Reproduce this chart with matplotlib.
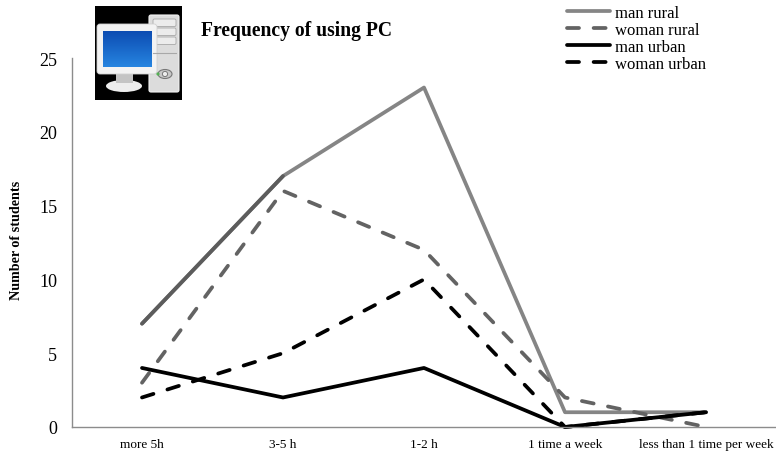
import numpy as np
import matplotlib
matplotlib.use("Agg")
import matplotlib.pyplot as plt
from matplotlib.patches import Rectangle, FancyBboxPatch, Ellipse, Circle

categories = ["more 5h", "3-5 h", "1-2 h", "1 time a week", "less than 1 time per week"]
man_rural = [7, 17, 23, 1, 1]
woman_rural = [3, 16, 12, 2, 0]
man_urban = [4, 2, 4, 0, 1]
woman_urban = [2, 5, 10, 0, 1]
y_ticks = [0, 5, 10, 15, 20, 25]
title = "Frequency of using PC"
y_label = "Number of students"

plt.rcParams["font.family"] = ["Liberation Serif", "DejaVu Serif"]
W, H = 776, 452
fig = plt.figure(figsize=(W / 100, H / 100), dpi=100, facecolor="white")
ax = fig.add_axes([71.5 / W, 1 - 428 / H, (776.5 - 71.5) / W, (428 - 59) / H])

x = np.arange(len(categories))
dash = (0, (3.2, 3.9))
lw = 2.7
kw = dict(lw=lw, solid_capstyle="round", dash_capstyle="round", solid_joinstyle="round")
ax.plot(x, man_rural, color="#858585", label="man rural", **kw)
ax.plot(x[:2], man_rural[:2], color="#5c5c5c", **kw)
ax.plot(x, woman_rural, color="#636363", ls=dash, label="woman rural", **kw)
ax.plot(x, man_urban, color="#000000", label="man urban", **kw)
ax.plot(x, woman_urban, color="#000000", ls=dash, label="woman urban", **kw)

ax.set_xlim(-0.5, 4.5)
ax.set_ylim(0, 25)
ax.set_xticks(x, categories, fontsize=9.5)
ax.set_yticks(y_ticks)
ax.tick_params(axis="y", length=0, labelsize=13, pad=10.4)
ax.tick_params(axis="x", length=0, pad=8)
for s in ("top", "right"):
    ax.spines[s].set_visible(False)
for s in ("left", "bottom"):
    ax.spines[s].set_color("#8c8c8c")
    ax.spines[s].set_linewidth(1.0)
for line in ax.lines:
    line.set_clip_on(False)

fig.text(17 / W, 1 - 240 / H, y_label, rotation=90, ha="center", va="center",
         fontsize=10.2, fontweight="bold")
fig.text(297 / W, 1 - 31 / H, title, ha="center", va="center",
         fontsize=14.1, fontweight="bold")

fig.legend(loc="upper left", bbox_to_anchor=(565 / W, 1 - 4.5 / H), frameon=False,
           fontsize=12, handlelength=2.6, handletextpad=0.3,
           labelspacing=0.05, borderpad=0.1, borderaxespad=0)

# computer icon, in its own pixel-scaled axes
ic = fig.add_axes([95 / W, 1 - 101 / H, 87 / W, 94 / H])
ic.axis("off")
ic.add_patch(Rectangle((95, 7), 87, 94, fc="black", ec="none"))
ic.add_patch(FancyBboxPatch((149, 16), 30, 77, boxstyle="round,pad=0,rounding_size=2",
                            fc="#dcdcdc", ec="#f2f2f2", lw=0.8))
for yy in (20, 29, 38):
    ic.add_patch(FancyBboxPatch((153, yy), 23, 7.5, boxstyle="round,pad=0,rounding_size=1.5",
                                fc="#ececec", ec="#a8a8a8", lw=0.6))
ic.plot([153, 176], [54, 54], color="#a8a8a8", lw=0.8)
ic.add_patch(Ellipse((124, 87), 36, 12, fc="#ededed", ec="none"))
ic.add_patch(Rectangle((116, 74), 17, 10, fc="#c4c4c4", ec="none"))
ic.add_patch(FancyBboxPatch((97, 25), 60, 50, boxstyle="round,pad=0,rounding_size=3",
                            fc="#f3f3f3", ec="#d0d0d0", lw=0.6))
grad = np.linspace(0, 1, 64)[:, None]
c0, c1 = np.array([0.05, 0.30, 0.70]), np.array([0.15, 0.52, 0.88])
img = (c0[None, None, :] * (1 - grad[..., None]) + c1[None, None, :] * grad[..., None])
ic.imshow(img, extent=(103, 152, 68, 32), aspect="auto", interpolation="bilinear", zorder=3)
ic.set_xlim(95, 182)
ic.set_ylim(101, 7)
ic.add_patch(Ellipse((165, 75), 14, 9, fc="#c8c8c8", ec="#777777", lw=0.8, zorder=4))
ic.add_patch(Circle((165, 75), 2.6, fc="#eeeeee", ec="#777777", lw=0.7, zorder=5))
ic.add_patch(Circle((158, 75), 1.6, fc="#55b055", ec="none", zorder=5))

fig.savefig("out.png", dpi=100, facecolor="white")
